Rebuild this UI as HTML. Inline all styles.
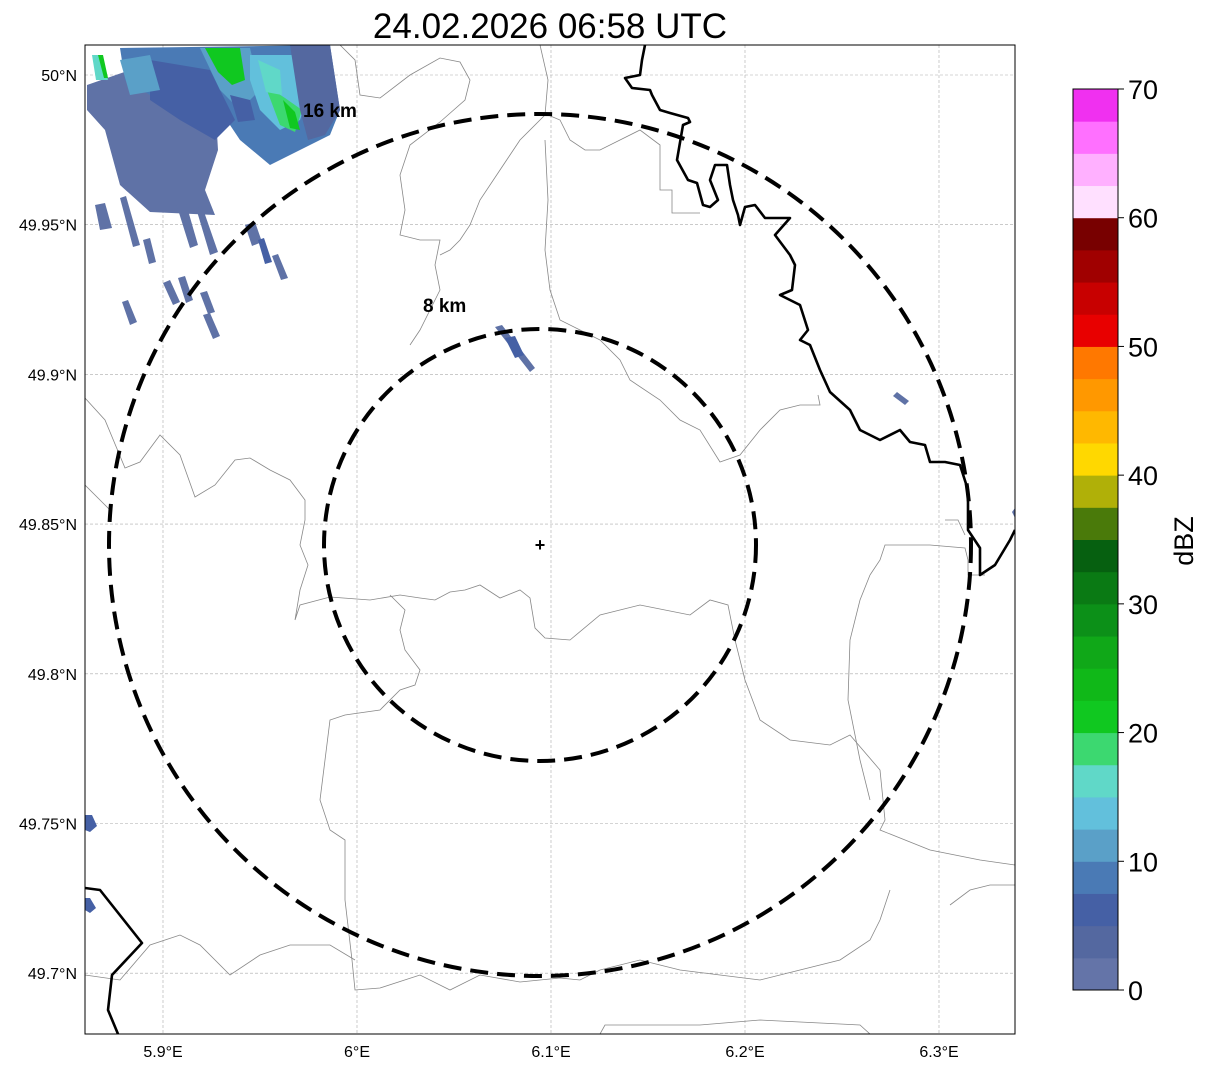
<!DOCTYPE html>
<html><head><meta charset="utf-8"><style>
body{margin:0;background:#fff;}
svg{display:block;font-family:"Liberation Sans","DejaVu Sans",sans-serif;}
</style></head><body>
<svg id="fig" width="1207" height="1069" viewBox="0 0 1207 1069">
<rect width="1207" height="1069" fill="#fff"/>
<text x="550" y="38" font-size="35" text-anchor="middle">24.02.2026 06:58 UTC</text>
<defs><clipPath id="mapclip"><rect x="85" y="45" width="930" height="989"/></clipPath></defs>
<g clip-path="url(#mapclip)">
<g id="grid"></g>
<g id="rain">
  <polygon points="87,85 130,70 140,62 200,55 215,100 218,150 205,190 215,215 150,212 120,185 105,130 87,110" fill="#5f72a6"/>
  <polygon points="120,48 330,45 340,110 330,135 300,150 270,165 240,140 220,110 200,105 150,95 125,80" fill="#4a7ab5"/>
  <polygon points="150,60 210,70 235,120 215,140 180,120 150,100" fill="#4560a5"/>
  <polygon points="120,60 150,55 160,90 130,95" fill="#5aa0c8"/>
  <polygon points="200,48 250,48 260,90 240,110 220,90" fill="#5aa0c8"/>
  <polygon points="205,48 240,48 245,80 232,85 218,72" fill="#10c820"/>
  <polygon points="250,55 300,55 310,90 300,120 280,130 260,110 250,80" fill="#62c0dc"/>
  <polygon points="265,85 285,98 302,110 295,132 280,125" fill="#3cd870"/>
  <polygon points="283,100 295,112 300,130 290,128" fill="#10c820"/>
  <polygon points="258,60 280,70 282,95 266,92" fill="#60d8c8"/>
  <polygon points="290,45 330,45 340,110 325,135 308,140 300,110" fill="#5468a0"/>
  <polygon points="230,95 250,100 255,120 238,122" fill="#4560a5"/>
  <polygon points="92,55 102,55 108,80 96,80" fill="#60d8c8"/>
  <polygon points="98,55 103,55 108,78 104,78" fill="#10c820"/>
  <polygon points="95,205 105,203 112,228 100,230" fill="#5f72a6"/>
  <polygon points="120,198 126,196 140,245 133,247" fill="#5f72a6"/>
  <polygon points="175,200 185,200 198,245 190,248" fill="#5f72a6"/>
  <polygon points="196,208 202,206 218,252 210,255" fill="#5f72a6"/>
  <polygon points="245,225 255,222 262,242 252,246" fill="#5f72a6"/>
  <polygon points="258,240 264,238 272,262 265,264" fill="#4560a5"/>
  <polygon points="272,256 278,254 288,278 281,280" fill="#5f72a6"/>
  <polygon points="163,283 170,280 180,302 173,305" fill="#5f72a6"/>
  <polygon points="178,278 185,276 193,300 186,303" fill="#5f72a6"/>
  <polygon points="200,293 207,291 215,312 208,314" fill="#5f72a6"/>
  <polygon points="203,315 210,313 220,336 213,339" fill="#5f72a6"/>
  <polygon points="122,302 128,300 137,322 130,325" fill="#5f72a6"/>
  <polygon points="143,240 150,238 156,262 149,264" fill="#5f72a6"/>
  <polygon points="495,327 502,325 535,368 530,372" fill="#5f72a6"/>
  <polygon points="505,338 515,336 524,355 515,358" fill="#4560a5"/>
  <polygon points="893,396 897,392 909,401 905,405" fill="#5f72a6"/>
  <polygon points="85,815 92,815 97,826 90,832 85,830" fill="#4560a5"/>
  <polygon points="85,898 90,898 96,908 90,913 85,910" fill="#4560a5"/>
  <polygon points="1012,512 1015,508 1015,518" fill="#5f72a6"/>
</g>
<g fill="none" stroke="#888" stroke-width="0.8">
  <polyline points="85,398 105,420 125,468 140,462 160,435 180,455 195,497 215,485 235,460 250,458 270,470 290,480 305,500 305,520 300,545 308,565 300,590 295,620 300,605 330,597 370,600 400,595 420,598 435,600 450,592 465,590 480,585 500,598 520,590 530,598 535,628 545,638 570,640 600,615 640,605 690,615 710,600 728,605 735,640 745,680 760,720 790,740 830,745 850,735 880,770 885,820 880,830 930,850 980,860 1015,865"/>
  <polyline points="340,45 355,60 360,95 380,98 410,75 440,58 460,62 470,80 465,100 440,122 410,145 400,175 405,210 400,235 420,240 440,240 435,265 440,290 430,310 420,330 410,345"/>
  <polyline points="540,45 548,80 545,115 520,140 500,170 480,200 470,225 460,240 450,250 440,255"/>
  <polyline points="548,115 560,120 570,140 585,150 600,150 620,140 640,130 660,145 660,190 672,190 672,213 700,213"/>
  <polyline points="545,140 548,200 545,250 550,290 560,320 600,340 620,360 630,380 660,400 680,420 700,430 720,462 740,455 760,430 780,410 800,405 820,405 818,395"/>
  <polyline points="390,595 405,610 400,630 405,650 420,670 415,685 400,690 380,710 345,715 330,720 325,760 320,800 330,830 345,840 345,900 352,960 355,990 380,988 420,975 450,990 480,975 520,982 560,978 580,980 600,970 640,960 680,970 720,975 760,980 800,970 840,960 870,940 880,920 890,890"/>
  <polyline points="85,975 120,980 150,945 180,935 200,945 230,975 260,955 290,945 330,945 355,960"/>
  <polyline points="600,1034 605,1025 700,1025 760,1020 800,1022 860,1025 870,1034"/>
  <polyline points="870,575 880,560 885,545 930,545 965,548 968,560 968,575 985,575"/>
  <polyline points="945,520 958,520 965,535"/>
  <polyline points="870,575 860,600 850,640 848,700 860,760 870,800"/>
  <polyline points="950,905 970,890 990,885 1015,885"/>
  <polyline points="85,485 100,500 110,510"/>
</g>
<g fill="none" stroke="#000" stroke-width="2.6" stroke-linejoin="round">
  <polyline points="645,45 642,60 640,75 625,78 632,88 650,90 652,95 660,110 670,113 688,118 690,122 683,125 677,160 688,180 697,183 703,205 710,207 718,200 710,180 715,165 727,165 730,185 733,200 738,215 740,225 745,207 755,205 765,218 790,218 775,235 790,255 795,265 792,290 780,295 800,305 808,330 800,340 810,345 820,370 830,392 850,410 860,430 880,440 900,430 910,442 925,445 930,462 945,462 960,465 968,490 968,530 980,548 980,575 995,565 1010,540 1015,530"/>
  <polyline points="85,888 100,890 142,943 112,975 108,1010 118,1034"/>
</g>
<g fill="none" stroke="#000" stroke-width="4" stroke-dasharray="18,9">
  <circle cx="540" cy="545" r="431"/>
  <circle cx="540" cy="545" r="216"/>
</g>
<text x="303" y="117" font-size="19" font-weight="bold">16 km</text>
<text x="423" y="312" font-size="19" font-weight="bold">8 km</text>
<text x="540" y="551" font-size="18" font-weight="bold" text-anchor="middle">+</text>
</g>
<rect x="85" y="45" width="930" height="989" fill="none" stroke="#000" stroke-width="1"/>
<g id="axes" font-size="16"></g>
<g id="cbar"></g>
<text transform="translate(1193,541) rotate(-90)" font-size="27" text-anchor="middle">dBZ</text>
</svg>
<script>
const latTicks=[50,49.95,49.9,49.85,49.8,49.75,49.7];
const latLabels=["50°N","49.95°N","49.9°N","49.85°N","49.8°N","49.75°N","49.7°N"];
const lonTicks=[5.9,6.0,6.1,6.2,6.3];
const lonLabels=["5.9°E","6°E","6.1°E","6.2°E","6.3°E"];
const cbarColors=["#6474a8","#5468a0","#4560a5","#4a7ab5","#5aa0c8","#62c0dc","#60d8c8","#3cd870","#10c820","#10b818","#10a818","#0c9018","#0a7a14","#066010","#4a7a0a","#b0b008","#ffd800","#ffb800","#ff9800","#ff7800","#e80000","#c80000","#a00000","#780000","#ffe0ff","#ffb0ff","#ff70ff","#f030f0"];
const cbarTicks=[0,10,20,30,40,50,60,70];
const NS="http://www.w3.org/2000/svg";
const yLat=v=>75+(50-v)/0.05*149.7;
const xLon=v=>163+(v-5.9)/0.1*194;
const cy=v=>990-v/70*901;
function mk(tag,attrs,parent){const e=document.createElementNS(NS,tag);for(const k in attrs)e.setAttribute(k,attrs[k]);parent.appendChild(e);return e;}
const grid=document.getElementById('grid'),axes=document.getElementById('axes'),cbar=document.getElementById('cbar');
latTicks.forEach((v,i)=>{const y=yLat(v);
 const l=mk('line',{x1:85,x2:1015,y1:y,y2:y,stroke:'#aaa','stroke-width':0.6,'stroke-dasharray':'3,2'},grid);
 
 
 const t=mk('text',{x:77,y:y+6,'text-anchor':'end'},axes);t.textContent=latLabels[i];
 
 
});
lonTicks.forEach((v,i)=>{const x=xLon(v);
 const l=mk('line',{x1:x,x2:x,y1:45,y2:1034,stroke:'#aaa','stroke-width':0.6,'stroke-dasharray':'3,2'},grid);
 
 
 const t=mk('text',{x:x,y:1057,'text-anchor':'middle'},axes);t.textContent=lonLabels[i];
 
 
});
cbarColors.forEach((c,i)=>{const v0=i*2.5,v1=v0+2.5;
 const r=mk('rect',{x:1073,y:cy(v1),width:45,height:cy(v0)-cy(v1)+0.5,fill:c},cbar);
 
 
});
const fr=mk('rect',{x:1073,y:cy(70),width:45,height:cy(0)-cy(70),fill:'none',stroke:'#000','stroke-width':1},cbar);


cbarTicks.forEach(v=>{const y=cy(v);
 mk('line',{x1:1118,x2:1124,y1:y,y2:y,stroke:'#000'},cbar);
 const t=mk('text',{x:1128,y:y+10,'font-size':27},cbar);t.textContent=v;
 
 
});
</script>
</body></html>
